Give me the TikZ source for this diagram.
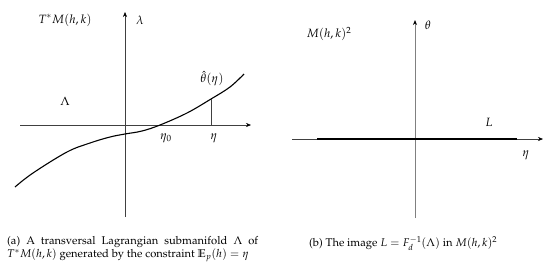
\documentclass[tikz,border=0pt]{standalone}
\usepackage[T1]{fontenc}
\usepackage{mathpazo}
\usepackage{amssymb}
\usetikzlibrary{arrows.meta}
\tikzset{
  axis/.style={line width=0.5pt, draw=black!75, -{Stealth[length=5pt,width=4pt,black]}},
  grayaxis/.style={line width=1pt, draw=black!50, -{Stealth[length=5pt,width=4pt,black]}},
  curve/.style={line width=1.1pt, black},
  lbl/.style={inner sep=0pt, font=\fontsize{12}{14}\selectfont},
  captext/.style={inner sep=0pt, anchor=north west, font=\fontsize{11.2}{13.5}\selectfont, align=left}
}
\begin{document}
\begin{tikzpicture}[x=1pt,y=-1pt]
\useasboundingbox (0,0) rectangle (550,263);
% left panel
\coordinate (vb) at (125,217);
\coordinate (vt) at (125,12);
\coordinate (hl) at (20,125);
\coordinate (hr) at (251,125);
\draw[axis] (vb) -- (vt);
\draw[axis] (hl) -- (hr);
\draw[curve] plot[smooth, tension=0.6] coordinates {(15,187) (33,173) (67,152) (90,143) (110,137) (125,134) (142,131) (160,125) (187,113) (211,99) (230,87) (244,74)};
\coordinate (tb) at (211,125);
\coordinate (tt) at (211,99);
\draw[line width=0.4pt, black!75] (tb) -- (tt);
\node[lbl] (tm) at (65,20) {$T^*M(h,k)$};
\node[lbl] (lam) at (140,20) {$\lambda$};
\node[lbl] (th) at (212,79) {$\hat\theta(\eta)$};
\node[lbl] (La) at (65,101) {$\Lambda$};
\node[lbl] (e0) at (166,138) {$\eta_0$};
\node[lbl] (e1) at (214,138) {$\eta$};
% right panel
\coordinate (rvb) at (415,218);
\coordinate (rvt) at (415,20);
\coordinate (rhl) at (292,139);
\coordinate (rhr) at (543,139);
\draw[grayaxis] (rvb) -- (rvt);
\draw[axis] (rhl) -- (rhr);
\coordinate (Ll) at (317,139);
\coordinate (Lr) at (517,139);
\draw[line width=1.4pt, black] (Ll) -- (Lr);
\node[lbl] (m2) at (329,34) {$M(h,k)^2$};
\node[lbl] (the) at (428,25) {$\theta$};
\node[lbl] (Lt) at (489,122) {$L$};
\node[lbl] (et) at (526,155) {$\eta$};
% captions
\node[captext] (capa) at (7,236) {\makebox[251pt][s]{(a) A transversal Lagrangian submanifold $\Lambda$ of}\\$T^*M(h,k)$ generated by the constraint $\mathbb{E}_p(h)=\eta$};
\node[captext] (capb) at (309,236) {(b) The image $L=F_d^{-1}(\Lambda)$ in $M(h,k)^2$};
\end{tikzpicture}
\end{document}
